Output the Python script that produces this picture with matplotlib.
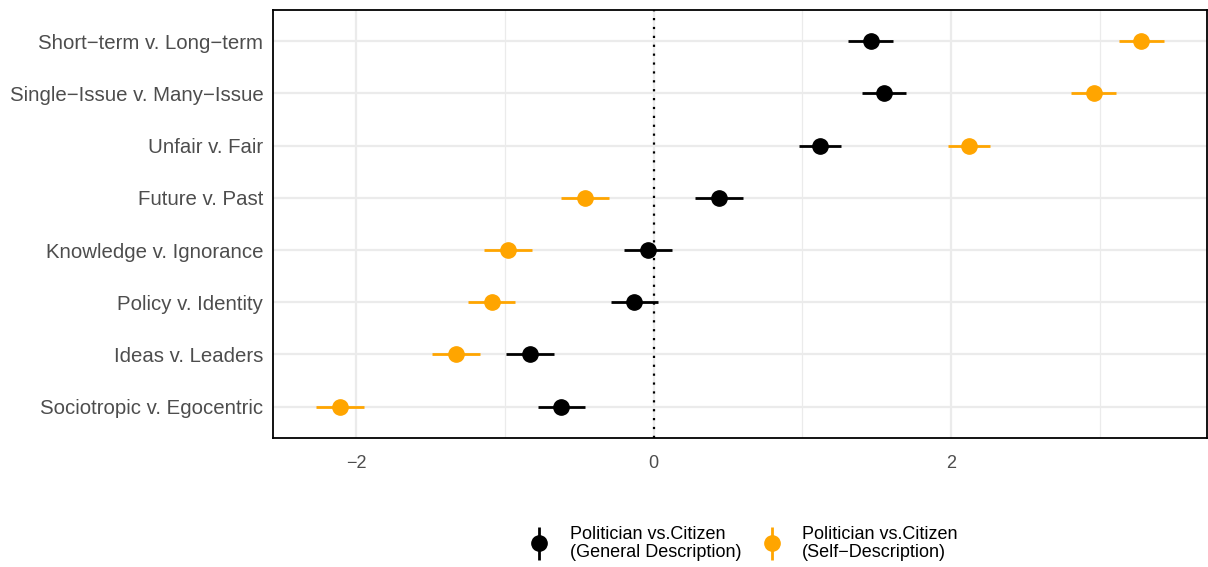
import numpy as np
import matplotlib.pyplot as plt
from matplotlib.legend_handler import HandlerErrorbar

plt.rcParams['font.family'] = ['Liberation Sans', 'DejaVu Sans']

# dimensões (de baixo para cima)
categorias = ["Sociotropic v. Egocentric", "Ideas v. Leaders", "Policy v. Identity",
              "Knowledge v. Ignorance", "Future v. Past", "Unfair v. Fair",
              "Single\u2212Issue v. Many\u2212Issue", "Short\u2212term v. Long\u2212term"]

# Politician vs. Citizen (General Description)
geral = [-0.62, -0.83, -0.13, -0.04, 0.44, 1.12, 1.55, 1.46]
geral_err = [0.16, 0.16, 0.16, 0.16, 0.16, 0.14, 0.15, 0.15]

# Politician vs. Citizen (Self-Description)
auto = [-2.11, -1.33, -1.09, -0.98, -0.46, 2.12, 2.96, 3.28]
auto_err = [0.16, 0.16, 0.16, 0.16, 0.16, 0.14, 0.15, 0.15]

fig = plt.figure(figsize=(12.08, 5.67), dpi=100)
ax = fig.add_axes([0.226, 0.2275, 0.773, 0.755])

y = np.arange(len(categorias))

ax.axvline(0, color="black", linestyle=(0, (1, 3)), linewidth=1.6, zorder=2)

ax.errorbar(geral, y, xerr=geral_err, fmt="o", color="black", markersize=11,
            elinewidth=2, capsize=0, zorder=3)
ax.errorbar(auto, y, xerr=auto_err, fmt="o", color="#FFA500", markersize=11,
            elinewidth=2, capsize=0, zorder=3)

ax.set_xlim(-2.56, 3.72)
ax.set_ylim(-0.6, 7.6)
ax.set_yticks(y)
ax.set_yticklabels(categorias)
ax.set_xticks([-2, 0, 2])
ax.set_xticklabels(["\u22122", "0", "2"])
ax.set_xticks([-1, 1, 3], minor=True)

ax.grid(True, which="major", color="#EBEBEB", linewidth=1.6, zorder=0)
ax.grid(True, which="minor", axis="x", color="#EBEBEB", linewidth=0.9, zorder=0)
ax.set_axisbelow(True)
ax.tick_params(axis="y", which="both", length=0, labelsize=14.7, colors="#4D4D4D", pad=7)
ax.tick_params(axis="x", which="both", length=0, labelsize=13, colors="#4D4D4D", pad=12)

for s in ax.spines.values():
    s.set_linewidth(1.3)
    s.set_color("black")

h1 = ax.errorbar([], [], yerr=[], fmt="o", color="black", markersize=11, elinewidth=2)
h2 = ax.errorbar([], [], yerr=[], fmt="o", color="#FFA500", markersize=11, elinewidth=2)
leg = fig.legend([h1, h2],
                 ["Politician vs.Citizen\n(General Description)",
                  "Politician vs.Citizen\n(Self\u2212Description)"],
                 loc="center", bbox_to_anchor=(0.615, 0.042), ncol=2, frameon=False,
                 fontsize=13, handlelength=1.2, handletextpad=1.08, columnspacing=1.08,
                 handler_map={type(h1): HandlerErrorbar(yerr_size=0.9)})
for t in leg.get_texts():
    t.set_linespacing(1.05)

fig.savefig("out.png", dpi=100)
